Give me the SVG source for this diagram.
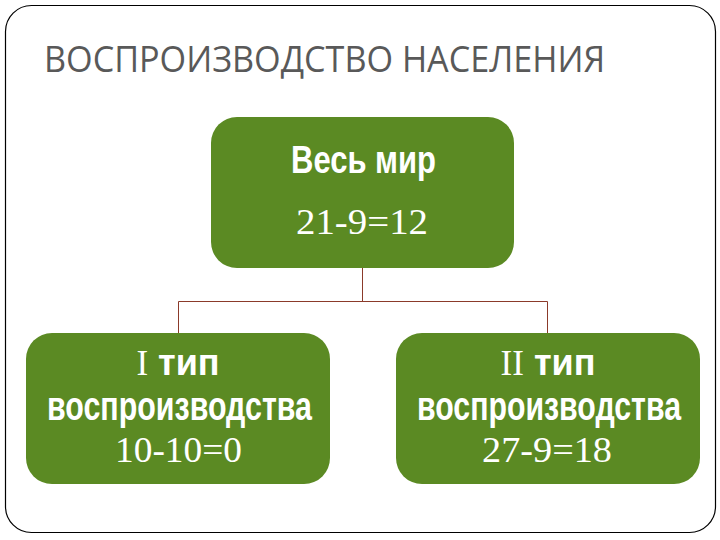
<svg xmlns="http://www.w3.org/2000/svg" width="720" height="540" viewBox="0 0 720 540">
<style>
.box{fill:#5b8a23}
.sans{font-family:"Liberation Sans Narrow","Liberation Sans",Arial,sans-serif;font-weight:bold;fill:#fff}
.ser{font-family:"Liberation Serif","Times New Roman",serif;fill:#fff}
.con{stroke:#8b3a2a;stroke-width:1;fill:none}
</style>
<rect width="720" height="540" fill="#fff"/>
<rect x="5.5" y="5.5" width="710" height="527" rx="26" ry="26" fill="none" stroke="#000" stroke-width="1.2"/>
<text x="44" y="72" font-family="'Open Sans','Noto Sans',sans-serif" font-size="36" fill="#595959" textLength="561" lengthAdjust="spacingAndGlyphs">ВОСПРОИЗВОДСТВО НАСЕЛЕНИЯ</text>
<g id="connectors">
<path class="con" d="M362.5 268V301.5M178.5 301.5H547.5M178.5 301.5V333M547.5 301.5V333"/>
</g>
<g id="node-world">
<rect class="box" x="211" y="117" width="303" height="151" rx="26" ry="26"/>
<text class="sans" x="291" y="173" font-size="38" textLength="145" lengthAdjust="spacingAndGlyphs">Весь мир</text>
<text class="ser" x="296" y="234" font-size="36" textLength="132" lengthAdjust="spacingAndGlyphs">21-9=12</text>
</g>
<g id="node-type1">
<rect class="box" x="26" y="333" width="304" height="151" rx="26" ry="26"/>
<text x="178" y="375" text-anchor="middle"><tspan class="ser" font-size="35">I</tspan><tspan class="sans" font-size="36"> тип</tspan></text>
<text class="sans" x="47" y="420" font-size="40" textLength="265" lengthAdjust="spacingAndGlyphs">воспроизводства</text>
<text class="ser" x="115" y="462" font-size="36" textLength="127" lengthAdjust="spacingAndGlyphs">10-10=0</text>
</g>
<g id="node-type2">
<rect class="box" x="396" y="333" width="304" height="151" rx="26" ry="26"/>
<text x="548" y="375" text-anchor="middle"><tspan class="ser" font-size="35">II</tspan><tspan class="sans" font-size="36"> тип</tspan></text>
<text class="sans" x="417" y="420" font-size="40" textLength="264" lengthAdjust="spacingAndGlyphs">воспроизводства</text>
<text class="ser" x="482" y="462" font-size="36" textLength="130" lengthAdjust="spacingAndGlyphs">27-9=18</text>
</g>
</svg>
